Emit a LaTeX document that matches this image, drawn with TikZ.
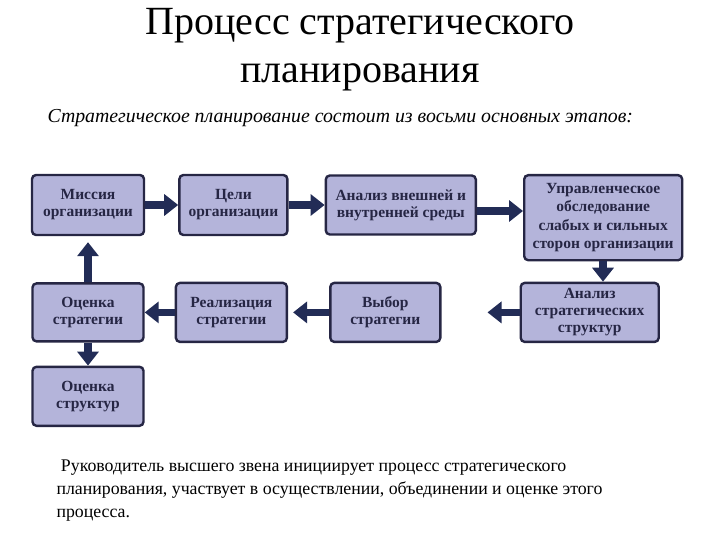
\documentclass[tikz,border=0pt]{standalone}
\usepackage{fontspec}
\setmainfont{Liberation Serif}
\usetikzlibrary{positioning,arrows.meta}

\definecolor{boxfill}{RGB}{180,180,218}
\definecolor{boxline}{RGB}{38,38,68}
\definecolor{arrowblue}{RGB}{34,44,86}

\tikzset{
  stage/.style={draw=boxline, line width=2.4pt, fill=boxfill, rounded corners=4pt,
    align=center, inner sep=2pt, text=boxline,
    font=\fontsize{15.5}{17}\selectfont\bfseries},
  flow/.style={draw=arrowblue, line width=7.5pt,
    -{Triangle[length=14pt,width=21pt]}},
}

\begin{document}
\begin{tikzpicture}[x=1pt,y=1pt]
   \useasboundingbox (0,0) rectangle (720,-540);

   % title
   \node[align=center, font=\fontsize{40}{48}\selectfont] (title) at (360,-50)
      {Процесс стратегического\\планирования};
   \node[anchor=base west, font=\fontsize{19.8}{21}\selectfont\itshape] (intro) at (44,-123)
      {Стратегическое планирование состоит из восьми основных этапов:};

   % upper row
   \node[stage, minimum width=112pt, minimum height=60pt] (mission) at (88,-205)
      {Миссия\\организации};
   \node[stage, minimum width=108pt, minimum height=60pt,
         right=33pt of mission] (goals) {Цели\\организации};
   \node[stage, minimum width=150pt, minimum height=59pt,
         right=36pt of goals] (env) {Анализ внешней и\\внутренней среды};
   \node[stage, minimum width=158pt, minimum height=85pt, anchor=north west,
         font=\fontsize{15.5}{18.5}\selectfont\bfseries] (survey) at (523,-174)
      {Управленческое\\обследование\\слабых и сильных\\сторон организации};

   % lower row
   \node[stage, minimum width=111pt, minimum height=58pt,
         below=46pt of mission] (evalstrat) {Оценка\\стратегии};
   \node[stage, minimum width=111pt, minimum height=59pt,
         right=30pt of evalstrat] (impl) {Реализация\\стратегии};
   \node[stage, minimum width=110pt, minimum height=59pt,
         right=41pt of impl] (choice) {Выбор\\стратегии};
   \node[stage, minimum width=138pt, minimum height=59pt,
         right=78pt of choice] (structan) {Анализ\\стратегических\\структур};

   % bottom box
   \node[stage, minimum width=111pt, minimum height=59pt,
         below=23pt of evalstrat] (evalstruct) {Оценка\\структур};

   % connections
   \draw[flow] (mission.east) -- (goals.west);
   \draw[flow] (goals.east) -- (env.west);
   \draw[flow] (env.east |- 0,-211) -- (survey.west |- 0,-211);
   \draw[flow] (survey.south -| 603,0) -- (structan.north -| 603,0);
   \draw[flow, shorten >=46pt] (structan.west) -- (choice.east);
   \draw[flow, shorten >=5pt] (choice.west) -- (impl.east);
   \draw[flow] (impl.west) -- (evalstrat.east);
   \draw[flow, shorten >=6pt] (evalstrat.north) -- (mission.south);
   \draw[flow] (evalstrat.south) -- (evalstruct.north);

   % note
   \node[anchor=north west, align=left,
         font=\fontsize{17.8}{23}\selectfont] (note) at (53,-456)
      {\ Руководитель высшего звена инициирует процесс стратегического\\
       планирования, участвует в осуществлении, объединении и оценке этого\\
       процесса.};
\end{tikzpicture}
\end{document}
